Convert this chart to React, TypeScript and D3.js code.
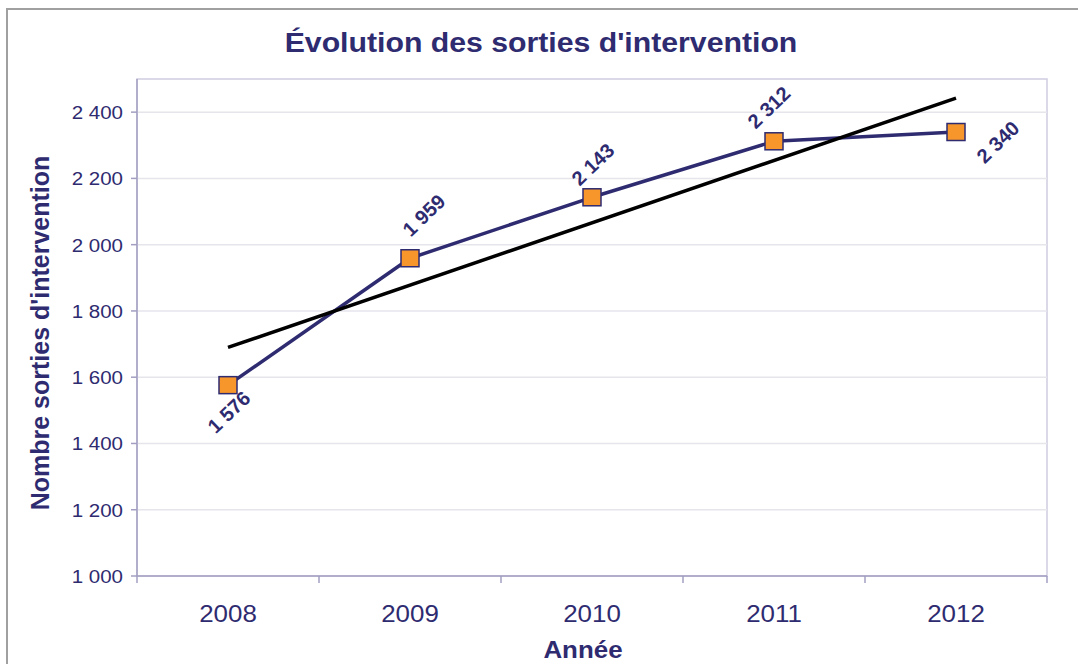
import * as d3 from 'd3';

const years = ['2008', '2009', '2010', '2011', '2012'];
const sorties = [1576, 1959, 2143, 2312, 2340];
const yTicks = [1000, 1200, 1400, 1600, 1800, 2000, 2200, 2400];
// label centre offsets from the marker (px)
const labelOffsets: [number, number][] = [[1, 27], [14, -43], [1, -33], [-5, -34], [42, 10]];

const W = 1078;
const H = 664;
const NAVY = '#2E2B70';
const SX = 1.08; // horizontal stretch of the source picture

const fmt = (v: number) => d3.format(',')(v).replace(/,/g, ' ');

export default function App() {
  const m = { left: 137, right: 1047, top: 79, bottom: 576 };

  const x = d3.scaleBand().domain(years).range([m.left, m.right]).padding(0);
  const y = d3.scaleLinear().domain([1000, 2500]).range([m.bottom, m.top]);
  const cx = (d: string) => (x(d) ?? 0) + x.bandwidth() / 2;

  const line = d3.line<number>()
    .x((_, i) => cx(years[i]))
    .y(d => y(d));

  // linear trend (least squares over the year index)
  const n = sorties.length;
  const idx = d3.range(n);
  const mx = d3.mean(idx) ?? 0;
  const my = d3.mean(sorties) ?? 0;
  const slope = d3.sum(idx, i => (i - mx) * (sorties[i] - my)) / d3.sum(idx, i => (i - mx) ** 2);
  const trend = [my - slope * mx, my + slope * (n - 1 - mx)];

  const bounds = [...years.map(d => x(d) ?? 0), m.right];
  const font = 'Liberation Sans, Arial, sans-serif';

  return (
    <svg width={W} height={H} style={{ position: 'absolute', left: 0, top: 0, background: '#fff' }} fontFamily={font}>
      <rect x={7} y={9} width={W + 20} height={H + 20} fill="none" stroke="#A0A0A0" strokeWidth={2} />

      <text transform={`translate(541,52) scale(${SX},1)`} textAnchor="middle" fontSize={28} fontWeight="bold" fill={NAVY}>
        Évolution des sorties d'intervention
      </text>

      {/* plot frame */}
      <rect x={m.left} y={m.top} width={m.right - m.left} height={m.bottom - m.top} fill="none" stroke="#CFCDE0" strokeWidth={1.5} />

      {yTicks.map(t => (
        <g key={t}>
          {t > 1000 && <line x1={m.left} x2={m.right} y1={y(t)} y2={y(t)} stroke="#E6E5EC" strokeWidth={1.5} />}
          <line x1={m.left - 6} x2={m.left} y1={y(t)} y2={y(t)} stroke="#A29FC2" strokeWidth={1.5} />
          <text transform={`translate(${m.left - 14},${y(t) + 7}) scale(${SX},1)`} textAnchor="end" fontSize={19} fill={NAVY}>
            {fmt(t)}
          </text>
        </g>
      ))}

      <line x1={m.left} x2={m.left} y1={m.top} y2={m.bottom} stroke="#A29FC2" strokeWidth={1.5} />
      <line x1={m.left} x2={m.right} y1={m.bottom} y2={m.bottom} stroke="#A29FC2" strokeWidth={1.5} />
      {bounds.map((b, i) => (
        <line key={i} x1={b} x2={b} y1={m.bottom} y2={m.bottom + 7} stroke="#A29FC2" strokeWidth={1.5} />
      ))}
      {years.map(d => (
        <text key={d} transform={`translate(${cx(d)},622) scale(${SX},1)`} textAnchor="middle" fontSize={24} fill={NAVY}>
          {d}
        </text>
      ))}

      <text transform={`translate(583,658) scale(${SX},1)`} textAnchor="middle" fontSize={24} fontWeight="bold" fill={NAVY}>
        Année
      </text>
      <text transform="translate(49,333) rotate(-90)" textAnchor="middle" fontSize={25} fontWeight="bold" fill={NAVY}>
        Nombre sorties d'intervention
      </text>

      <path d={line(sorties) ?? ''} fill="none" stroke={NAVY} strokeWidth={3.5} strokeLinejoin="round" />
      <line x1={cx(years[0])} x2={cx(years[n - 1])} y1={y(trend[0])} y2={y(trend[1])} stroke="#000" strokeWidth={3.5} />

      {sorties.map((v, i) => (
        <rect key={i} x={cx(years[i]) - 9} y={y(v) - 8.5} width={18} height={17} fill="#F7962B" stroke={NAVY} strokeWidth={1.5} />
      ))}

      {sorties.map((v, i) => (
        <text
          key={i}
          transform={`translate(${cx(years[i]) + labelOffsets[i][0]},${y(v) + labelOffsets[i][1]}) rotate(-44)`}
          textAnchor="middle"
          dy="0.35em"
          fontSize={20}
          fontWeight="bold"
          fill={NAVY}
        >
          {fmt(v)}
        </text>
      ))}
    </svg>
  );
}
